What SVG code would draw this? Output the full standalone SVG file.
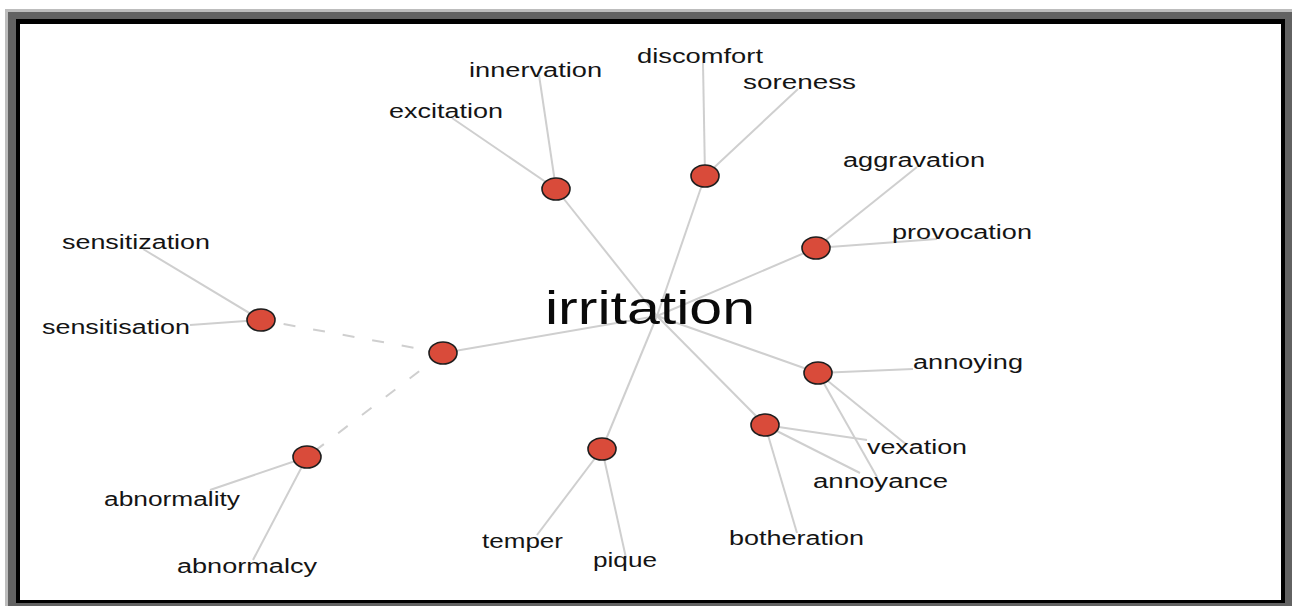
<svg xmlns="http://www.w3.org/2000/svg" width="1292" height="606" viewBox="0 0 1292 606">
<style>
.e{stroke:#cfcfcf;stroke-width:2;fill:none}
.d{stroke:#cfcfcf;stroke-width:2;fill:none;stroke-dasharray:12 18}
.n{fill:#d94b3a;stroke:#1e1e1e;stroke-width:1.6}
.t{font-family:"Liberation Sans",Arial,sans-serif;font-size:20px;fill:#141414}
.h{font-family:"Liberation Sans",Arial,sans-serif;font-size:46px;fill:#0a0a0a}
</style>
<rect x="0" y="0" width="1292" height="606" fill="#fff"/>
<rect x="5" y="9" width="1287" height="597" fill="#bdbdbd"/>
<rect x="8" y="12" width="1284" height="594" fill="#626262"/>
<rect x="16" y="19" width="1269" height="584" fill="#000"/>
<rect x="20" y="24" width="1261" height="576" fill="#fff"/>
<g id="connectors">
<line class="e" x1="657" y1="316" x2="556" y2="189"/>
<line class="e" x1="657" y1="316" x2="705" y2="176"/>
<line class="e" x1="657" y1="316" x2="816" y2="248"/>
<line class="e" x1="657" y1="316" x2="818" y2="373"/>
<line class="e" x1="657" y1="316" x2="765" y2="425"/>
<line class="e" x1="657" y1="316" x2="602" y2="449"/>
<line class="e" x1="657" y1="316" x2="443" y2="353"/>
<line class="d" x1="443" y1="353" x2="261" y2="320"/>
<line class="d" x1="443" y1="353" x2="307" y2="457"/>
<line class="e" x1="261" y1="320" x2="143" y2="249"/>
<line class="e" x1="261" y1="320" x2="190" y2="325"/>
<line class="e" x1="307" y1="457" x2="210" y2="490"/>
<line class="e" x1="307" y1="457" x2="253" y2="560"/>
<line class="e" x1="556" y1="189" x2="539" y2="75"/>
<line class="e" x1="556" y1="189" x2="452" y2="118"/>
<line class="e" x1="705" y1="176" x2="703" y2="63"/>
<line class="e" x1="705" y1="176" x2="798" y2="89"/>
<line class="e" x1="816" y1="248" x2="917" y2="167"/>
<line class="e" x1="816" y1="248" x2="937" y2="239"/>
<line class="e" x1="818" y1="373" x2="913" y2="369"/>
<line class="e" x1="818" y1="373" x2="907" y2="445"/>
<line class="e" x1="818" y1="373" x2="877" y2="477"/>
<line class="e" x1="765" y1="425" x2="867" y2="440"/>
<line class="e" x1="765" y1="425" x2="860" y2="473"/>
<line class="e" x1="765" y1="425" x2="797" y2="533"/>
<line class="e" x1="602" y1="449" x2="537" y2="535"/>
<line class="e" x1="602" y1="449" x2="626" y2="558"/>
</g>
<g id="hub"><text class="h" x="545" y="324" textLength="210" lengthAdjust="spacingAndGlyphs">irritation</text></g>
<g id="node-sens"><ellipse class="n" cx="261" cy="320" rx="14" ry="11"/></g>
<g id="node-mid"><ellipse class="n" cx="443" cy="353" rx="14" ry="11"/></g>
<g id="node-abn"><ellipse class="n" cx="307" cy="457" rx="14" ry="11"/></g>
<g id="node-exc"><ellipse class="n" cx="556" cy="189" rx="14" ry="11"/></g>
<g id="node-disc"><ellipse class="n" cx="705" cy="176" rx="14" ry="11"/></g>
<g id="node-aggr"><ellipse class="n" cx="816" cy="248" rx="14" ry="11"/></g>
<g id="node-ann"><ellipse class="n" cx="818" cy="373" rx="14" ry="11"/></g>
<g id="node-both"><ellipse class="n" cx="765" cy="425" rx="14" ry="11"/></g>
<g id="node-temp"><ellipse class="n" cx="602" cy="449" rx="14" ry="11"/></g>
<g id="labels">
<text class="t" x="62" y="249" textLength="148" lengthAdjust="spacingAndGlyphs">sensitization</text>
<text class="t" x="42" y="334" textLength="148" lengthAdjust="spacingAndGlyphs">sensitisation</text>
<text class="t" x="469" y="77" textLength="133" lengthAdjust="spacingAndGlyphs">innervation</text>
<text class="t" x="389" y="118" textLength="114" lengthAdjust="spacingAndGlyphs">excitation</text>
<text class="t" x="637" y="63" textLength="126" lengthAdjust="spacingAndGlyphs">discomfort</text>
<text class="t" x="743" y="89" textLength="113" lengthAdjust="spacingAndGlyphs">soreness</text>
<text class="t" x="843" y="167" textLength="142" lengthAdjust="spacingAndGlyphs">aggravation</text>
<text class="t" x="892" y="239" textLength="140" lengthAdjust="spacingAndGlyphs">provocation</text>
<text class="t" x="913" y="369" textLength="110" lengthAdjust="spacingAndGlyphs">annoying</text>
<text class="t" x="867" y="454" textLength="100" lengthAdjust="spacingAndGlyphs">vexation</text>
<text class="t" x="813" y="488" textLength="135" lengthAdjust="spacingAndGlyphs">annoyance</text>
<text class="t" x="729" y="545" textLength="135" lengthAdjust="spacingAndGlyphs">botheration</text>
<text class="t" x="482" y="548" textLength="81" lengthAdjust="spacingAndGlyphs">temper</text>
<text class="t" x="593" y="567" textLength="64" lengthAdjust="spacingAndGlyphs">pique</text>
<text class="t" x="104" y="506" textLength="136" lengthAdjust="spacingAndGlyphs">abnormality</text>
<text class="t" x="177" y="573" textLength="140" lengthAdjust="spacingAndGlyphs">abnormalcy</text>
</g>
</svg>
